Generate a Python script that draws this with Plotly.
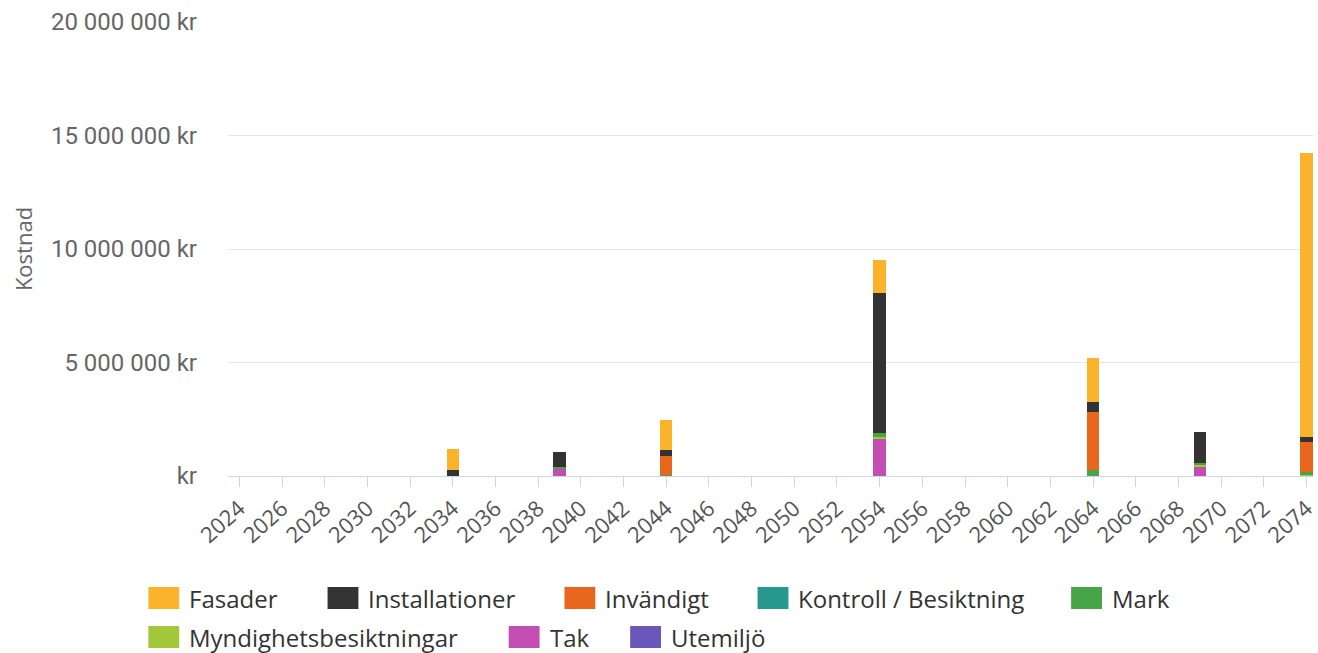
import plotly.graph_objects as go

years = [2034, 2039, 2044, 2054, 2064, 2069, 2074]

series_names = ["Fasader", "Installationer", "Invändigt", "Kontroll / Besiktning",
                "Mark", "Myndighetsbesiktningar", "Tak", "Utemiljö"]
fasader = [930000, 0, 1330000, 1470000, 1920000, 0, 12500000]
installationer = [280000, 670000, 250000, 6150000, 440000, 1370000, 220000]
invandigt = [0, 0, 860000, 0, 2590000, 0, 1320000]
kontroll = [0, 0, 0, 0, 0, 0, 0]
mark = [0, 90000, 40000, 170000, 250000, 80000, 120000]
myndighet = [0, 0, 0, 70000, 0, 80000, 50000]
tak = [0, 290000, 0, 1660000, 0, 420000, 0]
utemiljo = [0, 0, 0, 0, 0, 0, 0]

x_tickvals = list(range(2024, 2075, 2))

colors = ["#FBB32C", "#333333", "#E8671C", "#26998C", "#47A447",
          "#A2C83A", "#C24EB2", "#6A57BC"]

values = [fasader, installationer, invandigt, kontroll, mark, myndighet, tak, utemiljo]

y_tickvals = [0, 5000000, 10000000, 15000000, 20000000]
y_ticktext = ["kr", "5 000 000 kr", "10 000 000 kr", "15 000 000 kr", "20 000 000 kr"]

fig = go.Figure()
# stack bottom-up: last series at bottom
for i in reversed(range(len(series_names))):
    fig.add_trace(go.Bar(
        x=years, y=values[i], name=series_names[i],
        marker=dict(color=colors[i], line=dict(width=0)),
        width=0.58, showlegend=False,
    ))

# custom legend
L, W = 228, 1090
H_top, H_bot = 22, 476
def px_x(p):
    return (p - L) / W
def px_y(p):
    return (H_bot - p) / (H_bot - H_top)

legend_pos = [(148, 598), (328, 598), (566, 598), (760, 598), (1075, 598),
              (148, 637), (510, 637), (632, 637)]
for i, name in enumerate(series_names):
    sx, sy = legend_pos[i]
    fig.add_shape(type="rect", xref="paper", yref="paper",
                  x0=px_x(sx), x1=px_x(sx + 31), y0=px_y(sy + 11), y1=px_y(sy - 11),
                  fillcolor=colors[i], line=dict(width=0))
    fig.add_annotation(xref="paper", yref="paper", x=px_x(sx + 39), y=px_y(sy),
                       text=name, showarrow=False, xanchor="left", yanchor="middle",
                       font=dict(family="Open Sans", size=24, color="#333333"))

fig.update_layout(
    width=1318, height=653,
    margin=dict(l=228, r=0, t=22, b=177),
    barmode="stack",
    plot_bgcolor="white", paper_bgcolor="white",
    font=dict(family="Open Sans", color="#555555"),
    bargap=0,
)
fig.update_xaxes(
    range=[2023.47, 2074.3], tickvals=x_tickvals, tickangle=-42,
    showgrid=False, showline=True, linecolor="#CCD6EB", linewidth=1,
    ticks="outside", ticklen=10, tickcolor="#CCD6EB",
    tickfont=dict(family="Open Sans", size=22, color="#555555"),
    ticklabeloverflow="allow",
    zeroline=False,
)
fig.update_yaxes(
    range=[0, 20000000], tickvals=y_tickvals, ticktext=y_ticktext,
    showgrid=True, gridcolor="#E6E6E6", gridwidth=1, zeroline=False,
    ticklabelstandoff=30,
    tickfont=dict(family="Roboto", size=24, color="#666666"),
    title=dict(text="Kostnad", font=dict(family="Open Sans", size=22, color="#666666"), standoff=12),
)

fig.write_html("out.html")
